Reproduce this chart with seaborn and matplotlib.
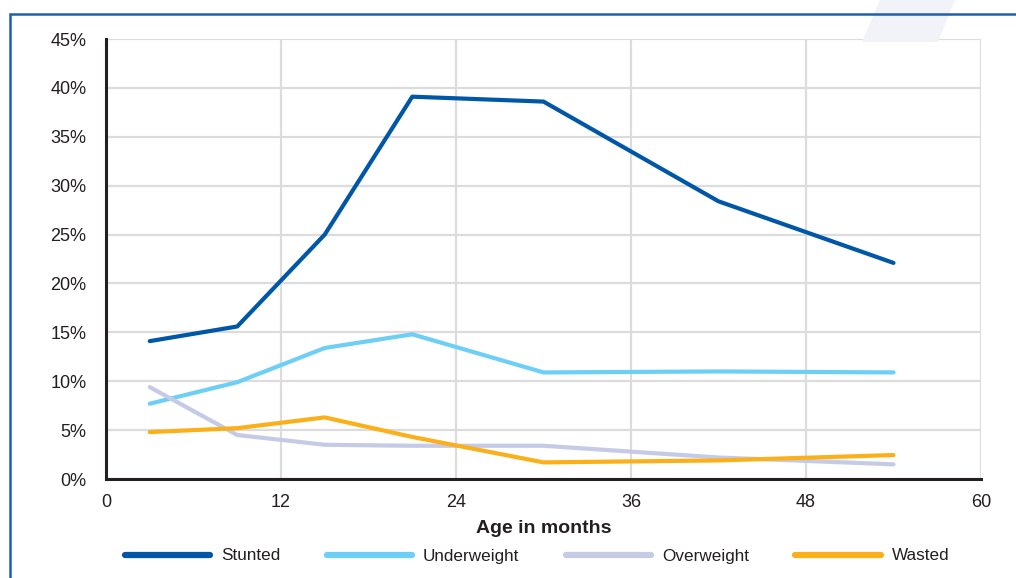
import pandas as pd
import matplotlib
matplotlib.use("Agg")
import matplotlib.pyplot as plt
from matplotlib.patches import Rectangle, Polygon
from matplotlib.ticker import FuncFormatter, MultipleLocator
import seaborn as sns

# data
age = [3, 9, 15, 21, 30, 42, 54]
stunted = [14.1, 15.6, 25.0, 39.1, 38.6, 28.4, 22.1]
underweight = [7.7, 9.9, 13.4, 14.8, 10.9, 11.0, 10.9]
overweight = [9.4, 4.5, 3.5, 3.4, 3.4, 2.2, 1.5]
wasted = [4.8, 5.2, 6.3, 4.3, 1.7, 1.9, 2.45]

series = ["Stunted", "Underweight", "Overweight", "Wasted"]
colors = ["#0057a8", "#6dcff6", "#c5cae6", "#fbb01a"]

df = pd.concat([
    pd.DataFrame({"age": age, "value": v, "series": name})
    for name, v in zip(series, [stunted, underweight, overweight, wasted])
])

sns.set_style("white")
plt.rcParams['font.family'] = ['Liberation Sans', 'DejaVu Sans']

fig = plt.figure(figsize=(10.16, 5.78), dpi=100)
ax = fig.add_axes([106 / 1016, 1 - 479 / 578, 875 / 1016, 440 / 578])

# frame decoration
fig.patches.append(Polygon([[880 / 1016, 1], [955 / 1016, 1], [938 / 1016, 1 - 42 / 578], [862 / 1016, 1 - 42 / 578]],
                           closed=True, transform=fig.transFigure, facecolor="#f2f3f8", edgecolor="none", zorder=0))
fig.patches.append(Rectangle((10 / 1016, -0.1), 1.2, 1.1 - 14 / 578, transform=fig.transFigure,
                             fill=False, edgecolor="#1f5fae", linewidth=1.8, zorder=1))

sns.lineplot(data=df, x="age", y="value", hue="series", palette=colors, hue_order=series,
             linewidth=3.0, ax=ax, legend=False, sort=False)

ax.set_xlim(0, 60)
ax.set_ylim(0, 45)
ax.xaxis.set_major_locator(MultipleLocator(12))
ax.xaxis.set_minor_locator(MultipleLocator(6))
ax.yaxis.set_major_locator(MultipleLocator(5))
ax.yaxis.set_major_formatter(FuncFormatter(lambda v, p: f"{v:.0f}%"))

ax.grid(True, which="major", color="#dcdcdc", linewidth=1.6)
ax.set_axisbelow(True)
for s in ["top", "right"]:
    ax.spines[s].set_visible(False)
for s in ["left", "bottom"]:
    ax.spines[s].set_color("#231f20")
    ax.spines[s].set_linewidth(2.2)
    ax.spines[s].set_zorder(5)

ax.tick_params(axis="both", which="both", direction="out", color="#231f20", width=1.6,
               labelsize=13, labelcolor="#231f20")
ax.tick_params(axis="x", which="both", length=6, pad=5)
ax.tick_params(axis="y", length=6, pad=8)

ax.set_xlabel("Age in months", fontsize=14, fontweight="bold", color="#231f20", labelpad=6)
ax.set_ylabel("")

handles = [plt.Line2D([], [], color=c, linewidth=4.5) for c in colors]
fig.legend(handles, series, loc="center", bbox_to_anchor=(537 / 1016, 1 - 556 / 578), ncol=4,
           frameon=False, fontsize=12.3, handlelength=5.0, handletextpad=0.65, columnspacing=2.7,
           labelcolor="#231f20")

fig.savefig("out.png", dpi=100)
